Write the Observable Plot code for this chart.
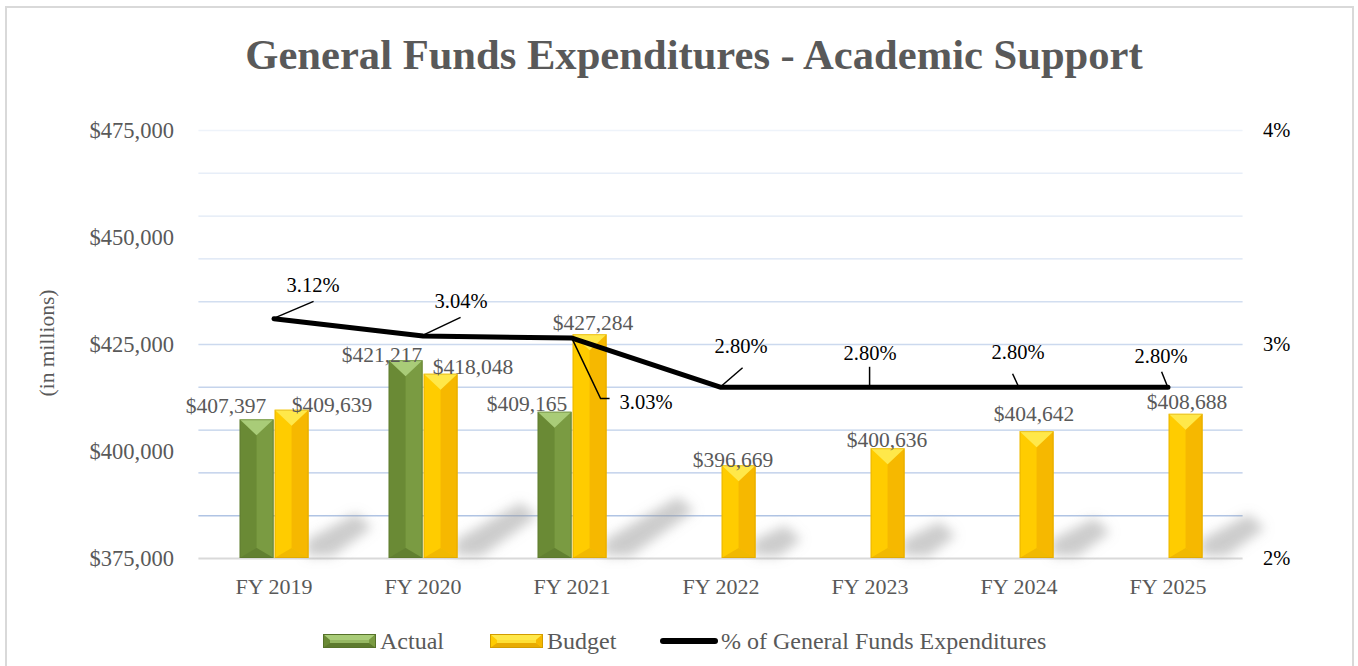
<!DOCTYPE html>
<html><head><meta charset="utf-8">
<script src="https://cdn.jsdelivr.net/npm/d3@7"></script>
<script src="https://cdn.jsdelivr.net/npm/@observablehq/plot@0.6"></script>
<style>
body{margin:0;background:#fff;width:1358px;height:666px;overflow:hidden;position:relative;font-family:"Liberation Serif","Times New Roman",serif;}
#frame{position:absolute;left:5px;top:6px;width:1349px;height:690px;border:2px solid #d9d9d9;box-sizing:border-box}
#title{position:absolute;left:694px;top:26px;transform:translateX(-50%);white-space:nowrap;font-size:42.6px;font-weight:bold;color:#595959;line-height:58px}
#ylabel{position:absolute;left:47px;top:343px;transform:translate(-50%,-50%) rotate(-90deg);white-space:nowrap;font-size:21.5px;color:#595959}
#chart{position:absolute;left:0;top:95px}
#chart text{font-family:"Liberation Serif","Times New Roman",serif;}
.item{position:absolute;top:628px;height:26px;line-height:26px;font-size:24px;color:#595959;white-space:nowrap}
.sw{position:absolute}
</style></head><body>
<svg width="0" height="0" style="position:absolute">
  <defs>
    <filter id="blurShadow" x="-50%" y="-50%" width="200%" height="200%"><feGaussianBlur stdDeviation="6"/></filter>
  </defs>
</svg>
<div id="frame"></div>
<div id="title">General Funds Expenditures - Academic Support</div>
<div id="ylabel">(in millions)</div>
<div id="chart"></div>
<div id="legend"></div>
<script>
// ---- data ----
const years = ["FY 2019", "FY 2020", "FY 2021", "FY 2022", "FY 2023", "FY 2024", "FY 2025"];
const actualYears = ["FY 2019", "FY 2020", "FY 2021"];
const actual = [407397, 421217, 409165];
const budget = [409639, 418048, 427284, 396669, 400636, 404642, 408688];
const pct = [3.12, 3.04, 3.03, 2.80, 2.80, 2.80, 2.80];
const yTicks = [375000, 400000, 425000, 450000, 475000];
const gridTicks = [385000, 395000, 405000, 415000, 425000, 435000, 445000, 455000, 465000, 475000];
const pctTicks = [2, 3, 4];
const seriesNames = ["Actual", "Budget", "% of General Funds Expenditures"];

// ---- layout (pixels) ----
const W = 1358, H = 520, mL = 198.4, mR = 115.4, mT = 35, mB = 57;
const bw = (W - mL - mR) / years.length;
const BAR_W = 34;
// label offsets: [dx from bar centre, dy from bar top]
const actualLabelOff = [[-31, -14], [-24, -6], [-28, -8]];
const budgetLabelOff = [[40, -5], [32, -7], [3, -12], [-6, -6], [-1, -9], [-3, -18], [1, -12]];
// pct label offsets from point, and leader line paths relative to point
const pctLabelOff = [[39, -33], [38, -35], [74, 64], [20, -41], [0, -34], [-1, -35], [-7, -31]];
const leaders = [[[40, -17]], [[38, -18]], [[29, 61], [38, 61]], [[22, -19]], [[0, -20]], [[-6, -13]], [[-6, -15]]];

const yMin = 375000;
const pctToY = p => yMin + (p - 2) * 50000;

const fmt = d3.format("$,");
const budgetData = years.map((y, i) => ({year: y, value: budget[i], i}));
const actualData = actualYears.map((y, i) => ({year: y, value: actual[i], i}));
const pctData = years.map((y, i) => ({year: y, pct: pct[i], v: pctToY(pct[i]), i}));

const gridColor = d3.interpolateRgb("#a9bfe2", "#eef3fa");

const GREEN = {left: "#6a8a35", right: "#7a9b42", top: "#a9cc78", bottom: "#5d7a2e", edge: "#56722a"};
const YELLOW = {left: "#ffcc00", right: "#f6b800", top: "#ffe84a", bottom: "#e8ab00", edge: "#d29c00"};

function centre(scales, yr) {
  const s0 = scales.x(years[0]);
  const v = scales.x(yr);
  return Math.abs(s0 - mL) < 3 ? v + bw / 2 : v;
}
const NS = "http://www.w3.org/2000/svg";
function el(tag, attrs) {
  const e = document.createElementNS(NS, tag);
  for (const k in attrs) e.setAttribute(k, attrs[k]);
  return e;
}
const pts = a => a.map(p => p.join(",")).join(" ");

function shadowMark(index, scales) {
  const g = el("g", {filter: "url(#blurShadow)"});
  const yb = scales.y(yMin);
  years.forEach((yr, i) => {
    const c = centre(scales, yr);
    const xr = c + 1 + BAR_W;
    let top = scales.y(budget[i]);
    const ai = actualYears.indexOf(yr);
    if (ai >= 0) top = Math.min(top, scales.y(actual[ai]));
    const h = yb - top;
    const lx = 0.32 * h, ly = 0.22 * h;
    g.appendChild(el("polygon", {
      points: pts([[xr - 2, yb - 2], [xr - 2, yb - 18], [xr + lx, yb - ly - 12], [xr + lx + 16, yb - ly + 2], [xr + 24, yb - 2]]),
      fill: "#9a9a9a", "fill-opacity": 0.5
    }));
  });
  return g;
}

function bevelMark(index, scales) {
  const g = el("g", {});
  const yb = scales.y(yMin);
  const draw = (x0, x1, top, col) => {
    const cx = (x0 + x1) / 2;
    const h = yb - top;
    const d = Math.min((x1 - x0) / 2 - 1, h / 2);
    const db = Math.min(10, h / 2);
    g.appendChild(el("polygon", {points: pts([[cx, top + d], [x1, top], [x1, yb], [cx, yb - db]]), fill: col.right}));
    g.appendChild(el("polygon", {points: pts([[x0, top], [x1, top], [cx, top + d]]), fill: col.top}));
    g.appendChild(el("polygon", {points: pts([[x0, yb], [x1, yb], [cx, yb - db]]), fill: col.bottom, "fill-opacity": 0.6}));
    g.appendChild(el("rect", {x: x0 + 0.5, y: top + 0.5, width: x1 - x0 - 1, height: h - 1, fill: "none", stroke: col.edge, "stroke-opacity": 0.45, "stroke-width": 1}));
  };
  actualYears.forEach((yr, i) => {
    const c = centre(scales, yr);
    draw(c - BAR_W, c, scales.y(actual[i]), GREEN);
  });
  years.forEach((yr, i) => {
    const c = centre(scales, yr);
    draw(c + 1, c + 1 + BAR_W, scales.y(budget[i]), YELLOW);
  });
  return g;
}

function leaderMark(index, scales) {
  const g = el("g", {fill: "none", stroke: "#000", "stroke-width": 1.5});
  pctData.forEach((d, i) => {
    const cx = centre(scales, d.year), cy = scales.y(d.v);
    const path = [[cx, cy], ...leaders[i].map(([dx, dy]) => [cx + dx, cy + dy])];
    g.appendChild(el("polyline", {points: pts(path)}));
  });
  return g;
}

const serif = "Liberation Serif";

const marks = [
  Plot.ruleY(gridTicks, {y: d => d, stroke: d => gridColor((d - yMin) / 100000), strokeWidth: 1.4}),
  Plot.ruleY([yMin], {stroke: "#d9d9d9", strokeWidth: 2}),
  shadowMark,
  Plot.barY(actualData, {x: "year", y1: yMin, y2: "value", fill: GREEN.left, insetLeft: bw / 2 - BAR_W, insetRight: bw / 2}),
  Plot.barY(budgetData, {x: "year", y1: yMin, y2: "value", fill: YELLOW.left, insetLeft: bw / 2 + 1, insetRight: bw / 2 - 1 - BAR_W}),
  bevelMark,
  Plot.line(pctData, {x: "year", y: "v", stroke: "#000", strokeWidth: 5, strokeLinejoin: "round", strokeLinecap: "round"}),
  leaderMark,
  ...actualData.map((d, i) => Plot.text([d], {x: "year", y: "value", text: d => fmt(d.value),
    dx: -BAR_W / 2 + actualLabelOff[i][0], dy: actualLabelOff[i][1], lineAnchor: "middle",
    fontSize: 21.5, fill: "#595959", fontFamily: serif})),
  ...budgetData.map((d, i) => Plot.text([d], {x: "year", y: "value", text: d => fmt(d.value),
    dx: 1 + BAR_W / 2 + budgetLabelOff[i][0], dy: budgetLabelOff[i][1], lineAnchor: "middle",
    fontSize: 21.5, fill: "#595959", fontFamily: serif})),
  ...pctData.map((d, i) => Plot.text([d], {x: "year", y: "v", text: d => d.pct.toFixed(2) + "%",
    dx: pctLabelOff[i][0], dy: pctLabelOff[i][1], lineAnchor: "middle",
    fontSize: 20.5, fill: "#000", fontFamily: serif})),
  Plot.axisY({anchor: "left", ticks: yTicks, tickFormat: d => fmt(d), tickSize: 0, tickPadding: 25, label: null,
    fontSize: 22.5, fill: "#595959", fontFamily: serif}),
  Plot.axisY({anchor: "right", ticks: pctTicks.map(pctToY), tickFormat: d => Math.round((d - yMin) / 50000 + 2) + "%",
    tickSize: 0, tickPadding: 20, label: null, fontSize: 20.5, fill: "#000", fontFamily: serif}),
  Plot.axisX({anchor: "bottom", tickSize: 0, tickPadding: 20, label: null, fontSize: 22, fill: "#595959", fontFamily: serif})
];

const chart = Plot.plot({
  width: W, height: H,
  marginLeft: mL, marginRight: mR, marginTop: mT, marginBottom: mB,
  x: {type: "band", domain: years, padding: 0, axis: null},
  y: {domain: [375000, 475000], axis: null},
  style: {fontFamily: "'Liberation Serif','Times New Roman',serif", background: "transparent", overflow: "visible"},
  marks
});
document.getElementById("chart").appendChild(chart);

// ---- legend ----
function swatch(col) {
  const s = el("svg", {width: 53, height: 14});
  s.appendChild(el("rect", {x: 0, y: 0, width: 53, height: 14, fill: col.left}));
  s.appendChild(el("polygon", {points: pts([[0, 0], [53, 0], [46, 6], [7, 6]]), fill: col.top}));
  s.appendChild(el("rect", {x: 7, y: 6, width: 39, height: 3, fill: col.top, "fill-opacity": 0.7}));
  s.appendChild(el("polygon", {points: pts([[0, 14], [53, 14], [46, 9], [7, 9]]), fill: col.bottom}));
  s.appendChild(el("polygon", {points: pts([[53, 0], [53, 14], [46, 9], [46, 6]]), fill: col.right}));
  s.appendChild(el("rect", {x: 0.5, y: 0.5, width: 52, height: 13, fill: "none", stroke: col.edge, "stroke-width": 1}));
  return s;
}
function lineSwatch() {
  const s = el("svg", {width: 58, height: 14});
  s.appendChild(el("line", {x1: 3, y1: 7, x2: 55, y2: 7, stroke: "#000", "stroke-width": 6, "stroke-linecap": "round"}));
  return s;
}
const legendDefs = [
  {name: seriesNames[0], sw: swatch(GREEN), swx: 323, tx: 380},
  {name: seriesNames[1], sw: swatch(YELLOW), swx: 490, tx: 547},
  {name: seriesNames[2], sw: lineSwatch(), swx: 660, tx: 721}
];
const legend = document.getElementById("legend");
for (const d of legendDefs) {
  d.sw.setAttribute("class", "sw");
  d.sw.style.left = d.swx + "px";
  d.sw.style.top = "634px";
  legend.appendChild(d.sw);
  const t = document.createElement("div");
  t.className = "item";
  t.style.left = d.tx + "px";
  t.textContent = d.name;
  legend.appendChild(t);
}
</script>
</body></html>
